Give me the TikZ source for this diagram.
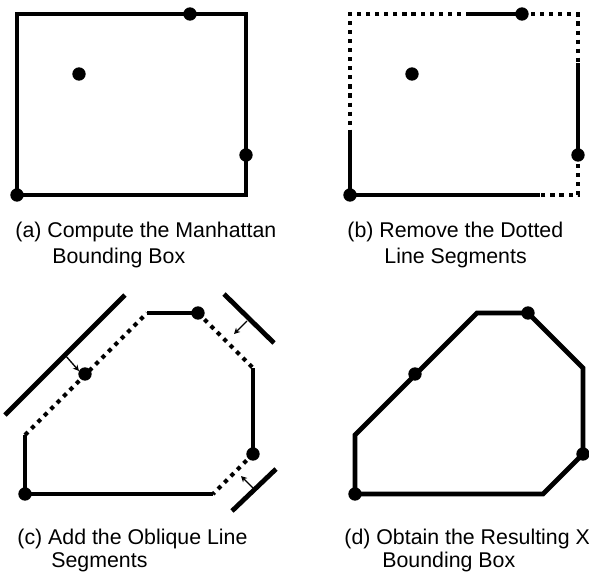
\documentclass[tikz,border=0pt]{standalone}
\usepackage{fontspec}
\setmainfont{Liberation Sans}
\usetikzlibrary{arrows.meta}

\tikzset{every picture/.style={line width=3.6pt}}
\tikzset{
  dotseg/.style={line width=3.1pt, dash pattern=on 3.1pt off 3.7pt},
  pin/.style={circle, fill=black, draw=none, inner sep=0pt, minimum size=10pt},
  push/.style={-{Stealth[length=4.5pt,width=4.5pt]}, line width=1pt},
  caption/.style={anchor=base west, inner sep=0pt, font=\fontsize{16}{19.5}\selectfont}
}

\begin{document}
\begin{tikzpicture}[x=0.75pt,y=0.75pt,yscale=-1,xscale=1]
\useasboundingbox (0,0) rectangle (589,572);

%Panel (a) : Manhattan box
\coordinate (aNW) at (17,14);
\coordinate (aSE) at (246,195);
\draw [line join=miter] (aNW) rectangle (aSE);
\node [pin] (aTop) at (190,14) {};
\node [pin] (aIn) at (79,74) {};
\node [pin] (aRight) at (246,155) {};
\node [pin] (aBL) at (17,195) {};

%Panel (b) : dotted parts of the box
\coordinate (bNW) at (350,14);
\coordinate (bNE) at (578,14);
\coordinate (bSE) at (578,195);
\coordinate (bT1) at (470,14);
\coordinate (bR1) at (578,63);
\coordinate (bB1) at (540,195);
\coordinate (bL1) at (350,133);
\node [pin] (bTop) at (522,14) {};
\node [pin] (bIn) at (412,74) {};
\node [pin] (bRight) at (578,155) {};
\node [pin] (bBL) at (350,195) {};
% solid
\draw (bT1) -- (bTop.center);
\draw (bR1) -- (bRight.center);
\draw (bL1) -- (bBL.center) -- (bB1);
% dotted
\draw [dotseg] (bT1) -- (bNW) -- (bL1);
\draw [dotseg] (bTop.center) -- (bNE) -- (bR1);
\draw [dotseg] (bRight.center) -- (bSE) -- (bB1);

%Panel (c) : oblique segments
\coordinate (cP2) at (25,435);
\coordinate (cP3) at (147,313);
\coordinate (cP5) at (253,368);
\coordinate (cP7) at (213,494);
\node [pin] (cBL) at (25,494) {};
\node [pin] (cIn) at (85,374) {};
\node [pin] (cTop) at (198,313) {};
\node [pin] (cRight) at (253,454) {};
% solid
\draw [line join=miter] (cP7) -- (cBL.center) -- (cP2);
\draw (cP3) -- (cTop.center);
\draw (cP5) -- (cRight.center);
% dotted
\draw [dotseg] (cP2) -- (cP3);
\draw [dotseg] (cTop.center) -- (cP5);
\draw [dotseg] (cRight.center) -- (cP7);
% tangent lines
\coordinate (cUL1) at (5,415);
\coordinate (cUL2) at (125,295);
\coordinate (cUR1) at (224,294);
\coordinate (cUR2) at (274,343);
\coordinate (cLR1) at (232,511);
\coordinate (cLR2) at (276,469);
\draw (cUL1) -- (cUL2);
\draw (cUR1) -- (cUR2);
\draw (cLR1) -- (cLR2);
% arrows
\coordinate (cUL3) at (65,355);
\coordinate (cUL4) at (79,371);
\coordinate (cUR3) at (247,321);
\coordinate (cUR4) at (234,334);
\coordinate (cLR3) at (253,488);
\coordinate (cLR4) at (241,476);
\draw [push] (cUL3) -- (cUL4);
\draw [push] (cUR3) -- (cUR4);
\draw [push] (cLR3) -- (cLR4);

%Panel (d) : resulting X box
\coordinate (dP2) at (355,435);
\coordinate (dP3) at (477,313);
\coordinate (dP5) at (583,368);
\coordinate (dP7) at (543,494);
\node [pin] (dBL) at (355,494) {};
\node [pin] (dIn) at (415,374) {};
\node [pin] (dTop) at (528,313) {};
\node [pin] (dRight) at (583,454) {};
\draw [line join=miter] (dBL.center) -- (dP2) -- (dP3) -- (dTop.center) -- (dP5) -- (dRight.center) -- (dP7) -- cycle;

% Text Node
\node [caption] (capA1) at (13,237) {(a) Compute the Manhattan};
\node [caption] (capA2) at (50,263) {Bounding Box};
% Text Node
\node [caption] (capB1) at (345,237) {(b) Remove the Dotted};
\node [caption] (capB2) at (382,263) {Line Segments};
% Text Node
\node [caption] (capC1) at (15,544) {(c) Add the Oblique Line};
\node [caption] (capC2) at (49,567) {Segments};
% Text Node
\node [caption] (capD1) at (342,544) {(d) Obtain the Resulting X};
\node [caption] (capD2) at (380,567) {Bounding Box};

\end{tikzpicture}
\end{document}
